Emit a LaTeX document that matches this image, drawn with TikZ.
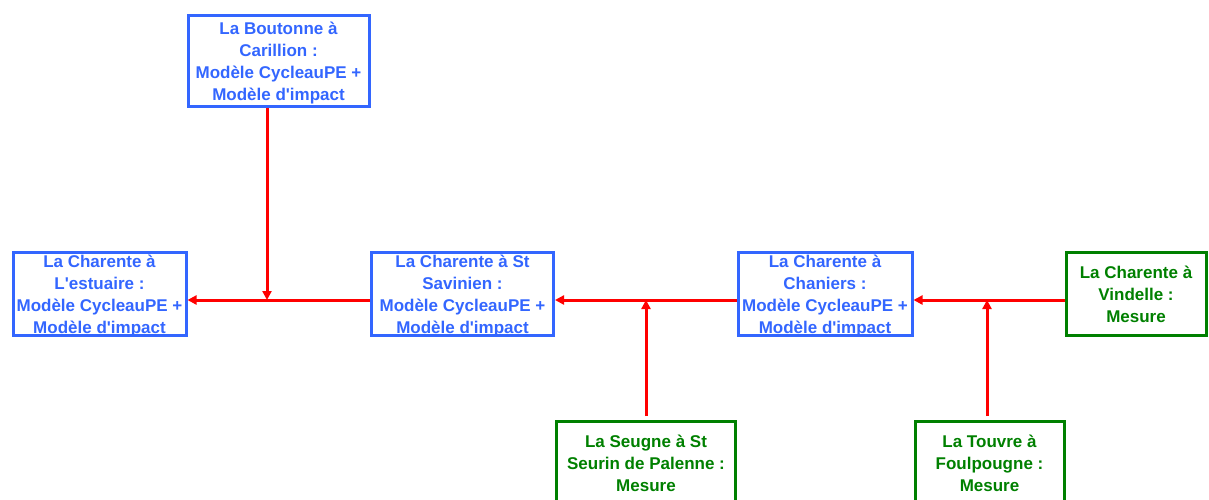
\documentclass[tikz,border=0pt]{standalone}
\usepackage{fontspec}
\setmainfont{Liberation Sans}[Ligatures=TeXOff]
\usetikzlibrary{arrows.meta}
\definecolor{mblue}{HTML}{3366FF}
\definecolor{mgreen}{HTML}{008000}
\definecolor{mred}{HTML}{FF0000}
\begin{document}
\begin{tikzpicture}[x=1pt,y=-1pt,
  box/.style={draw, line width=3pt, inner sep=0pt, align=center,
    font=\fontsize{17}{22}\selectfont\bfseries},
  modelbox/.style={box, draw=mblue, text=mblue},
  mesbox/.style={box, draw=mgreen, text=mgreen},
  modeltext/.style={inner sep=0pt, align=center, text=mblue,
    font=\fontsize{17}{22}\selectfont\bfseries},
  arr/.style={draw=mred, line width=3pt, -{Triangle[length=9pt,width=9pt]}}]
\useasboundingbox (0,0) rectangle (1209,499);
\node[modelbox, minimum width=181pt, minimum height=91pt] (bout) at (278.5,61) {};
\node[modeltext] (bout-t) at ([yshift=-2pt]bout.center)
  {La Boutonne à\\Carillion :\\Modèle CycleauPE +\\Modèle d'impact};
\node[modelbox, minimum width=173pt, minimum height=83pt] (est) at (99.5,294) {};
\node[modeltext] (est-t) at ([yshift=-2.5pt]est.center)
  {La Charente à\\L'estuaire :\\Modèle CycleauPE +\\Modèle d'impact};
\node[modelbox, minimum width=182pt, minimum height=83pt] (sav) at (462.5,294) {};
\node[modeltext] (sav-t) at ([yshift=-2.5pt]sav.center)
  {La Charente à St\\Savinien :\\Modèle CycleauPE +\\Modèle d'impact};
\node[modelbox, minimum width=174pt, minimum height=83pt] (cha) at (825,294) {};
\node[modeltext] (cha-t) at ([yshift=-2.5pt]cha.center)
  {La Charente à\\Chaniers :\\Modèle CycleauPE +\\Modèle d'impact};
\node[mesbox, minimum width=140pt, minimum height=83pt] (vin) at (1136,294)
  {La Charente à\\Vindelle :\\Mesure};
\node[mesbox, minimum width=179pt, minimum height=83pt] (seu) at (646,463)
  {La Seugne à St\\Seurin de Palenne :\\Mesure};
\node[mesbox, minimum width=149pt, minimum height=83pt] (tou) at (989.5,463)
  {La Touvre à\\Foulpougne :\\Mesure};
\coordinate (j1) at (267,300);
\coordinate (j2) at (646,300);
\coordinate (j3) at (987,300);
\draw[arr] (j1 |- bout.south) -- (j1);
\draw[arr] (sav.west |- j1) -- (est.east |- j1);
\draw[arr] (cha.west |- j2) -- (sav.east |- j2);
\draw[arr, shorten <=4pt] (j2 |- seu.north) -- (j2);
\draw[arr] (vin.west |- j3) -- (cha.east |- j3);
\draw[arr, shorten <=4pt] (j3 |- tou.north) -- (j3);
\end{tikzpicture}
\end{document}
